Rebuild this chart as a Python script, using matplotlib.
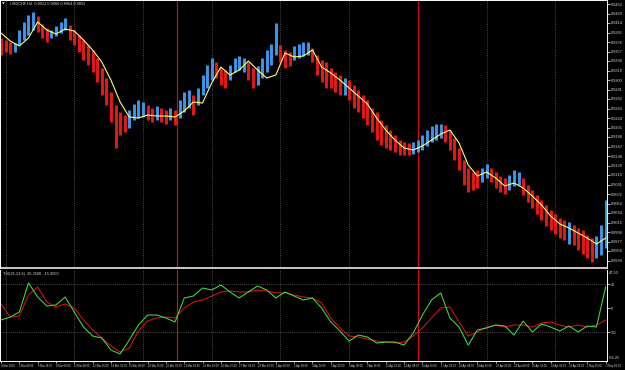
import numpy as np
import matplotlib.pyplot as plt
from matplotlib.ticker import FormatStrFormatter

symbol_info = "USDCHF,H4  0.9012 0.9060 0.8964 0.9052"
osc_info = "TSI(25,13,8)  26.2500  -15.0000"

# main window: one drawn bar for every 2 chart bars
bar_hi = [0.9384, 0.9380, 0.9376, 0.9374, 0.9400, 0.9416, 0.9430, 0.9436, 0.9428, 0.9412,
          0.9404, 0.9400, 0.9408, 0.9416, 0.9424, 0.9410, 0.9400, 0.9390, 0.9380, 0.9370,
          0.9360, 0.9344, 0.9324, 0.9304, 0.9276, 0.9250, 0.9236, 0.9230, 0.9240, 0.9252,
          0.9260, 0.9256, 0.9250, 0.9244, 0.9248, 0.9244, 0.9240, 0.9244, 0.9240, 0.9260,
          0.9276, 0.9280, 0.9270, 0.9284, 0.9310, 0.9330, 0.9344, 0.9336, 0.9324, 0.9320,
          0.9330, 0.9344, 0.9348, 0.9344, 0.9336, 0.9324, 0.9328, 0.9344, 0.9360, 0.9372,
          0.9414, 0.9370, 0.9360, 0.9356, 0.9368, 0.9372, 0.9376, 0.9376, 0.9364, 0.9350,
          0.9340, 0.9336, 0.9324, 0.9316, 0.9310, 0.9304, 0.9300, 0.9290, 0.9280, 0.9270,
          0.9260, 0.9244, 0.9236, 0.9220, 0.9210, 0.9200, 0.9190, 0.9180, 0.9176, 0.9174,
          0.9176, 0.9180, 0.9190, 0.9200, 0.9208, 0.9212, 0.9212, 0.9210, 0.9200, 0.9184,
          0.9164, 0.9140, 0.9124, 0.9116, 0.9120, 0.9124, 0.9132, 0.9124, 0.9116, 0.9108,
          0.9104, 0.9110, 0.9120, 0.9116, 0.9104, 0.9090, 0.9080, 0.9070, 0.9060, 0.9050,
          0.9040, 0.9032, 0.9024, 0.9020, 0.9016, 0.9010, 0.9004, 0.9000, 0.8990, 0.8984,
          0.8988, 0.9010, 0.9060]
bar_lo = [0.9350, 0.9356, 0.9352, 0.9356, 0.9370, 0.9380, 0.9390, 0.9400, 0.9396, 0.9384,
          0.9376, 0.9384, 0.9388, 0.9394, 0.9400, 0.9380, 0.9370, 0.9356, 0.9340, 0.9330,
          0.9316, 0.9296, 0.9270, 0.9250, 0.9216, 0.9164, 0.9190, 0.9196, 0.9204, 0.9220,
          0.9224, 0.9226, 0.9220, 0.9216, 0.9220, 0.9216, 0.9212, 0.9220, 0.9210, 0.9224,
          0.9236, 0.9244, 0.9230, 0.9250, 0.9270, 0.9284, 0.9300, 0.9304, 0.9290, 0.9284,
          0.9300, 0.9316, 0.9320, 0.9316, 0.9300, 0.9284, 0.9290, 0.9304, 0.9316, 0.9330,
          0.9350, 0.9336, 0.9324, 0.9328, 0.9340, 0.9344, 0.9348, 0.9350, 0.9336, 0.9310,
          0.9296, 0.9284, 0.9284, 0.9276, 0.9270, 0.9270, 0.9260, 0.9244, 0.9236, 0.9224,
          0.9210, 0.9196, 0.9180, 0.9170, 0.9164, 0.9160, 0.9156, 0.9150, 0.9150, 0.9150,
          0.9152, 0.9156, 0.9160, 0.9168, 0.9176, 0.9180, 0.9184, 0.9176, 0.9160, 0.9140,
          0.9120, 0.9090, 0.9076, 0.9080, 0.9084, 0.9096, 0.9104, 0.9096, 0.9084, 0.9076,
          0.9072, 0.9080, 0.9088, 0.9090, 0.9070, 0.9056, 0.9044, 0.9032, 0.9020, 0.9008,
          0.9000, 0.8992, 0.8984, 0.8980, 0.8972, 0.8970, 0.8960, 0.8952, 0.8944, 0.8936,
          0.8944, 0.8950, 0.8964]
# u = up (blue), d = down (red)
bar_dir = ("ddd" "uuuuu" "ddd" "uuuu" "ddddddddddddd" "uuuu" "dd" "u" "dd" "u" "d"
           "uuu" "d" "uuuu" "ddd" "uuuu" "dd" "uuuuu" "ddd" "uuuu" "ddddddd" "u"
           "dddddddddddddd" "uuuuuuu" "dddddddd" "uu" "dddd" "uuu" "dddddddddd" "u"
           "ddddd" "uuu")

# yellow average, one point every 4 chart bars
ma_line = [0.9394, 0.9378, 0.9368, 0.9384, 0.9416, 0.9400, 0.9392, 0.9402, 0.9398, 0.9380,
           0.9360, 0.9336, 0.9300, 0.9256, 0.9226, 0.9224, 0.9230, 0.9228, 0.9228, 0.9226,
           0.9238, 0.9256, 0.9254, 0.9294, 0.9326, 0.9310, 0.9320, 0.9338, 0.9320, 0.9304,
           0.9310, 0.9354, 0.9346, 0.9348, 0.9360, 0.9326, 0.9314, 0.9300, 0.9284, 0.9268,
           0.9252, 0.9224, 0.9200, 0.9180, 0.9164, 0.9160, 0.9168, 0.9180, 0.9192, 0.9200,
           0.9174, 0.9130, 0.9108, 0.9116, 0.9104, 0.9088, 0.9094, 0.9084, 0.9068, 0.9050,
           0.9028, 0.9012, 0.9004, 0.8994, 0.8984, 0.8972, 0.8984]

# sub window oscillator, one point every 4 chart bars
osc_fast = [-15.0, -11.3, -5.0, 31.3, 13.8, 2.5, 3.8, 13.8, -5.0, -23.8,
            -35.0, -37.5, -52.5, -57.5, -40.0, -21.3, -8.8, -8.8, -12.5, -17.5,
            12.5, 15.0, 25.0, 22.5, 28.8, 20.0, 12.5, 20.0, 27.5, 22.5,
            12.5, 20.0, 15.0, 10.0, 12.5, 0.0, -17.5, -28.8, -41.3, -33.8,
            -36.3, -43.8, -42.5, -42.5, -46.3, -31.3, -8.8, 10.0, 18.8, -12.5,
            -23.8, -46.3, -27.5, -25.0, -21.3, -22.5, -33.8, -16.3, -30.0, -20.0,
            -23.8, -28.8, -22.5, -30.0, -22.5, -23.8, 26.3]
osc_slow = [5.0, -11.3, -10.0, 16.3, 26.3, 7.5, 1.3, 5.0, 0.0, -15.0,
            -27.5, -37.5, -47.5, -55.0, -50.0, -28.8, -16.3, -12.5, -11.3, -12.5,
            0.0, 7.5, 10.0, 15.0, 20.0, 21.3, 20.0, 20.0, 22.5, 21.3,
            18.8, 18.8, 16.3, 13.8, 12.5, 6.3, -12.5, -25.0, -35.0, -36.3,
            -38.8, -41.3, -42.5, -43.8, -42.5, -35.0, -25.0, -12.5, 0.0, 1.3,
            -17.5, -35.0, -30.0, -23.8, -21.3, -23.8, -21.3, -21.3, -23.8, -18.8,
            -17.5, -21.3, -23.8, -21.3, -23.8, -21.3, -15.0]
osc_levels = [30, -30]

# one label every 8 chart bars
date_labels = ["4 Mar 2013", "5 Mar 08:00", "6 Mar 16:00", "8 Mar 00:00", "11 Mar 08:00",
               "12 Mar 16:00", "14 Mar 00:00", "15 Mar 08:00", "18 Mar 16:00", "20 Mar 00:00",
               "21 Mar 08:00", "22 Mar 16:00", "26 Mar 00:00", "27 Mar 08:00", "28 Mar 16:00",
               "1 Apr 00:00", "2 Apr 08:00", "3 Apr 16:00", "5 Apr 00:00", "8 Apr 08:00",
               "9 Apr 16:00", "11 Apr 00:00", "12 Apr 08:00", "15 Apr 16:00", "17 Apr 00:00",
               "18 Apr 08:00", "19 Apr 16:00", "23 Apr 00:00", "24 Apr 08:00", "25 Apr 16:00",
               "29 Apr 00:00", "30 Apr 08:00", "1 May 16:00", "3 May 00:00"]
separators = [77, 182]

UP = "#3a98ec"
DOWN = "#ee1515"
TXT = "#d8d8d8"
GRID = "#8a8a8a"
small = ["Liberation Sans", "DejaVu Sans"]

fig = plt.figure(figsize=(6.25, 3.7), dpi=100, facecolor="black")
ax = fig.add_axes([0, 102 / 370, 607 / 625, 268 / 370])
ax2 = fig.add_axes([0, 9 / 370, 607 / 625, 91 / 370], sharex=ax)

for a in (ax, ax2):
    a.set_facecolor("black")
    for s in a.spines.values():
        s.set_color("white")
        s.set_linewidth(0.7)
    for b in range(2, 265, 30):
        a.axvline(b, color=GRID, ls=(0, (1, 2)), lw=0.5, zorder=0)
    for b in separators:
        a.axvline(b, color="#d01010", lw=0.85, zorder=1)
    a.yaxis.tick_right()
    a.tick_params(axis="y", colors="white", labelcolor=TXT, labelsize=2.8, length=2,
                  width=0.5, pad=1)
    for lbl in a.get_yticklabels():
        lbl.set_family(small)

# price bars + average
xb = np.arange(len(bar_hi)) * 2
cols = [UP if d == "u" else DOWN for d in bar_dir]
ax.vlines(xb, bar_lo, bar_hi, colors=cols, linewidth=2.1, zorder=2)
xl = np.arange(len(ma_line)) * 4
ax.plot(xl, ma_line, color="#ffff70", lw=0.8, zorder=3)

ax.set_xlim(-0.44, 264.6)
ax.set_ylim(0.8924, 0.9460)
ax.set_yticks(np.round(0.9452 - 0.0019 * np.arange(28), 4))
ax.yaxis.set_major_formatter(FormatStrFormatter("%.4f"))
ax.tick_params(axis="x", bottom=False, labelbottom=False)
ax.spines["bottom"].set_linewidth(1.1)
ax.text(0.004, 0.993, "\u25bc", transform=ax.transAxes, fontsize=2.5, color=TXT, va="top")
ax.text(0.016, 0.993, symbol_info, transform=ax.transAxes, fontsize=2.8, color=TXT,
        va="top", family=small)

# oscillator
xo = np.arange(len(osc_fast)) * 4
ax2.plot(xo, osc_slow, color="#e01010", lw=0.75, zorder=2)
ax2.plot(xo, osc_fast, color="#3ee03e", lw=0.75, zorder=3)
for lv in osc_levels:
    ax2.axhline(lv, color=GRID, ls=(0, (1, 2)), lw=0.5, zorder=0)
ax2.set_ylim(-66.25, 47.5)
ax2.set_yticks([30, 0, -30])
ax2.set_yticklabels(["30", "0", "-30"], family=small)
ax2.spines["top"].set_visible(False)
ax2.text(1.003, 0.985, "47.50", transform=ax2.transAxes, fontsize=2.8, color=TXT,
         va="top", family=small)
ax2.text(1.003, 0.01, "-66.25", transform=ax2.transAxes, fontsize=2.8, color=TXT,
         va="bottom", family=small)
ax2.text(0.005, 0.975, osc_info, transform=ax2.transAxes, fontsize=2.8, color=TXT,
         va="top", family=small)

ax2.set_xticks(np.arange(len(date_labels)) * 8)
ax2.set_xticklabels(date_labels)
ax2.tick_params(axis="x", colors="white", labelcolor=TXT, labelsize=1.9, length=1.5,
                width=0.5, pad=0.8)
for lbl in ax2.get_xticklabels():
    lbl.set_ha("left")
    lbl.set_family(small)

fig.savefig("out.png", dpi=100, facecolor="black")
